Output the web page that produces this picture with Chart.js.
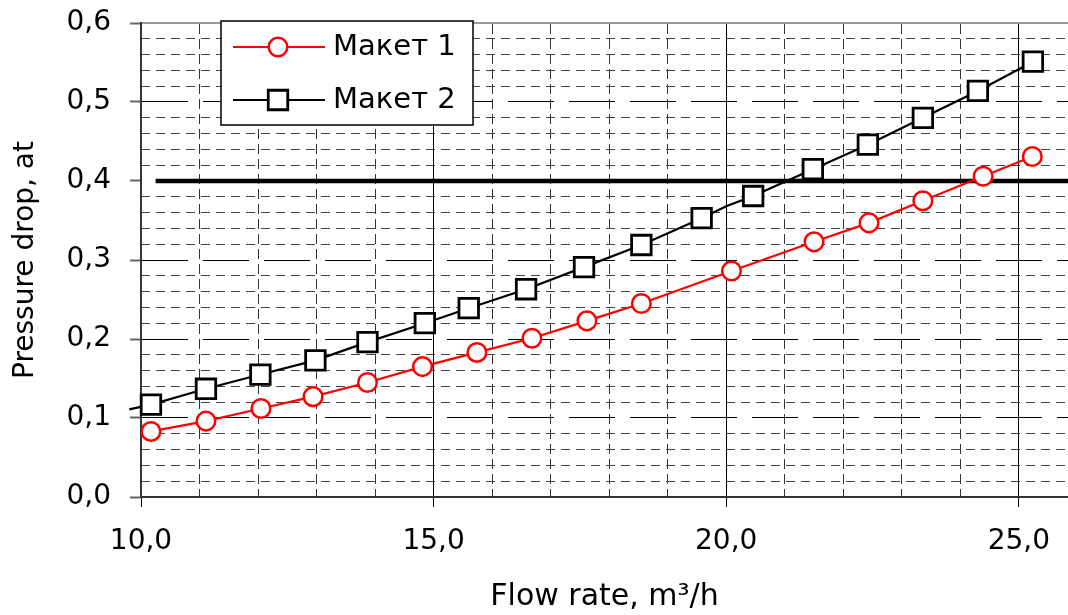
<!DOCTYPE html>
<html>
<head>
<meta charset="utf-8">
<script src="https://cdn.jsdelivr.net/npm/chart.js@4/dist/chart.umd.min.js"></script>
<style>
  html, body { margin: 0; padding: 0; background: #ffffff; }
  #wrap { width: 1068px; height: 615px; position: relative; }
</style>
</head>
<body>
<div id="wrap"><canvas id="c" width="1068" height="615"></canvas></div>
<script>
// ---- Data ----
const flowRate1 = [10.17, 11.11, 12.05, 12.94, 13.87, 14.81, 15.74, 16.68, 17.62, 18.55, 20.09, 21.50, 22.44, 23.36, 24.39, 25.23];
const pressureDrop1 = [0.083, 0.096, 0.112, 0.127, 0.145, 0.165, 0.183, 0.201, 0.223, 0.245, 0.286, 0.323, 0.347, 0.375, 0.406, 0.431];

const flowRate2 = [9.80, 10.17, 11.11, 12.04, 12.98, 13.87, 14.85, 15.60, 16.58, 17.57, 18.55, 19.58, 20.00, 20.46, 21.48, 22.42, 23.36, 24.30, 25.24];
const pressureDrop2 = [0.111, 0.117, 0.137, 0.155, 0.173, 0.196, 0.220, 0.239, 0.263, 0.291, 0.319, 0.353, 0.368, 0.381, 0.415, 0.446, 0.480, 0.514, 0.551];
const shownMarker2 = [false, true, true, true, true, true, true, true, true, true, true, true, false, true, true, true, true, true, true];

const limitX = [10.25, 26.0];
const limitY = [0.4, 0.4];

const seriesLabels = ['Макет 1', 'Макет 2'];
const xTickValues = [10, 15, 20, 25];
const yTickValues = [0, 0.1, 0.2, 0.3, 0.4, 0.5, 0.6];
const xTitle = 'Flow rate, m³/h';
const yTitle = 'Pressure drop, at';

// ---- Helpers ----
const fmt = v => Number(v).toFixed(1).replace('.', ',');
const isMult = (v, step) => Math.abs(v / step - Math.round(v / step)) < 1e-6;
const toPts = (xs, ys) => xs.map((x, i) => ({ x: x, y: ys[i] }));
const noPad = s => { s.paddingTop = 0; s.paddingBottom = 0; s.paddingLeft = 0; s.paddingRight = 0; };

Chart.defaults.font.family = '"DejaVu Sans", "Liberation Sans", sans-serif';
Chart.defaults.color = '#000';

const boxLegend = {
  id: 'boxLegend',
  afterDatasetsDraw(chart) {
    const { ctx, chartArea } = chart;
    const x0 = chartArea.left + 80, y0 = chartArea.top - 2, w = 252, h = 104;
    ctx.save();
    ctx.fillStyle = '#ffffff';
    ctx.fillRect(x0, y0, w, h);
    ctx.lineWidth = 1.5;
    ctx.strokeStyle = '#000';
    ctx.strokeRect(x0, y0, w, h);
    chart.data.datasets.forEach((ds, i) => {
      if (!ds.label) return;
      const ly = y0 + 26 + i * 53;
      ctx.setLineDash([]);
      ctx.strokeStyle = ds.borderColor;
      ctx.lineWidth = ds.borderWidth;
      ctx.beginPath();
      ctx.moveTo(x0 + 12, ly);
      ctx.lineTo(x0 + 104, ly);
      ctx.stroke();
      const mx = x0 + 57;
      ctx.fillStyle = ds.pointBackgroundColor;
      ctx.strokeStyle = ds.pointBorderColor;
      ctx.lineWidth = ds.pointBorderWidth;
      ctx.beginPath();
      if (ds.pointStyle === 'circle') {
        ctx.arc(mx, ly, ds.legendRadius, 0, Math.PI * 2);
      } else {
        const s = ds.legendRadius * Math.SQRT1_2;
        ctx.rect(mx - s, ly - s, 2 * s, 2 * s);
      }
      ctx.fill();
      ctx.stroke();
      ctx.fillStyle = '#000';
      ctx.font = '29px "DejaVu Sans", sans-serif';
      ctx.textAlign = 'left';
      ctx.textBaseline = 'alphabetic';
      ctx.fillText(ds.label, x0 + 112, ly + 8);
    });
    ctx.restore();
  }
};

new Chart(document.getElementById('c'), {
  type: 'line',
  data: {
    datasets: [
      {
        label: seriesLabels[0],
        data: toPts(flowRate1, pressureDrop1),
        borderColor: '#ff0000',
        borderWidth: 2.2,
        pointStyle: 'circle',
        pointRadius: 9.3,
        legendRadius: 9.3,
        pointBorderWidth: 2.5,
        pointBackgroundColor: '#ffffff',
        pointBorderColor: '#ff0000',
        tension: 0,
        fill: false
      },
      {
        label: seriesLabels[1],
        data: toPts(flowRate2, pressureDrop2),
        borderColor: '#000000',
        borderWidth: 2.2,
        pointStyle: 'rect',
        pointRadius: c => (shownMarker2[c.dataIndex] ? 13.8 : 0),
        legendRadius: 13.8,
        pointBorderWidth: 2.8,
        pointBackgroundColor: '#ffffff',
        pointBorderColor: '#000000',
        tension: 0,
        fill: false,
        clip: { left: 14, top: 10, right: 10, bottom: 10 }
      },
      {
        label: '',
        data: toPts(limitX, limitY),
        borderColor: '#000000',
        borderWidth: 4.5,
        borderCapStyle: 'butt',
        pointRadius: 0,
        tension: 0,
        fill: false
      }
    ]
  },
  options: {
    responsive: false,
    animation: false,
    devicePixelRatio: 1,
    events: [],
    layout: { autoPadding: false, padding: { top: 23, left: 0, right: 0, bottom: 0 } },
    plugins: { legend: { display: false }, tooltip: { enabled: false } },
    scales: {
      x: {
        type: 'linear', position: 'bottom', min: 10, max: 25.84,
        afterBuildTicks: s => { s.ticks = xTickValues.map(v => ({ value: v })); },
        afterFit: s => { s.height = 118; noPad(s); },
        ticks: { callback: v => fmt(v), padding: 18, color: '#000', font: { size: 28 }, maxRotation: 0, autoSkip: false },
        grid: {
          color: c => (c.tick && Math.abs(c.tick.value - 10) < 1e-9) ? 'rgba(0,0,0,0)' : '#000',
          lineWidth: 1, tickLength: 10, tickColor: '#000', tickWidth: 1
        },
        border: { display: true, color: '#333', width: 2 },
        title: { display: true, text: xTitle, color: '#000', font: { size: 30 }, padding: { top: 0, bottom: 0 } }
      },
      xMinor: {
        type: 'linear', position: 'top', min: 10, max: 25.84,
        ticks: { stepSize: 1, display: false, includeBounds: false },
        afterBuildTicks: s => { s.ticks = s.ticks.filter(t => !isMult(t.value, 5)); },
        afterFit: s => { s.height = 0; noPad(s); },
        grid: { color: '#333', lineWidth: 1, drawTicks: false, borderDash: [10, 5] },
        border: { display: true, color: '#999', width: 2, dash: [10, 5] }
      },
      y: {
        type: 'linear', position: 'left', min: 0, max: 0.6,
        afterBuildTicks: s => { s.ticks = yTickValues.map(v => ({ value: v })); },
        afterFit: s => { s.width = 141; noPad(s); },
        ticks: { callback: v => fmt(v), padding: 19, color: '#000', font: { size: 28 } },
        grid: {
          color: c => {
            if (!c.tick) return '#000';
            const v = c.tick.value;
            return (Math.abs(v) < 1e-9 || Math.abs(v - 0.6) < 1e-9 || Math.abs(v - limitY[0]) < 1e-9) ? 'rgba(0,0,0,0)' : '#000';
          },
          lineWidth: 1, tickLength: 11, tickColor: '#666', tickWidth: 2, borderDash: [46, 15]
        },
        border: { display: true, color: '#333', width: 2, dash: [46, 15] },
        title: { display: true, text: yTitle, color: '#000', font: { size: 28 }, padding: { top: 9, bottom: 0 } }
      },
      yMinor: {
        type: 'linear', position: 'right', min: 0, max: 0.6,
        ticks: { stepSize: 0.02, display: false, includeBounds: false },
        afterBuildTicks: s => { s.ticks = s.ticks.filter(t => !isMult(t.value, 0.1)); },
        afterFit: s => { s.width = 0; noPad(s); },
        grid: { color: '#444', lineWidth: 1, drawTicks: false, borderDash: [9, 6] },
        border: { display: false, dash: [9, 6] }
      }
    }
  },
  plugins: [boxLegend]
});
</script>
</body>
</html>
